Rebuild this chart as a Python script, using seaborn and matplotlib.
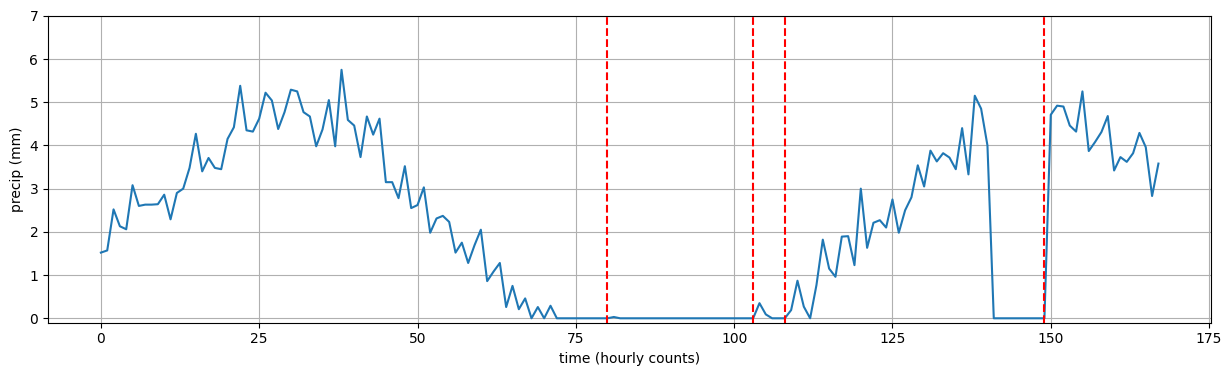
import pandas as pd
import numpy as np
import seaborn as sns
import matplotlib.pyplot as plt

# hourly precipitation values (index = hour)
precip = [
    1.52, 1.57, 2.52, 2.13, 2.06, 3.08, 2.60, 2.63, 2.63, 2.64,
    2.86, 2.29, 2.90, 3.00, 3.48, 4.27, 3.40, 3.71, 3.48, 3.45,
    4.15, 4.42, 5.38, 4.35, 4.32, 4.62, 5.22, 5.04, 4.38, 4.77,
    5.29, 5.25, 4.77, 4.67, 3.98, 4.37, 5.05, 3.98, 5.75, 4.59,
    4.46, 3.73, 4.67, 4.25, 4.62, 3.15, 3.15, 2.78, 3.52, 2.55,
    2.62, 3.03, 1.98, 2.31, 2.37, 2.23, 1.52, 1.75, 1.28, 1.69,
    2.05, 0.86, 1.08, 1.28, 0.26, 0.75, 0.21, 0.46, 0.00, 0.26,
    0.00, 0.29, 0.00, 0.00, 0.00, 0.00, 0.00, 0.00, 0.00, 0.00,
    0.00, 0.03, 0.00, 0.00, 0.00, 0.00, 0.00, 0.00, 0.00, 0.00,
    0.00, 0.00, 0.00, 0.00, 0.00, 0.00, 0.00, 0.00, 0.00, 0.00,
    0.00, 0.00, 0.00, 0.00, 0.35, 0.09, 0.00, 0.00, 0.00, 0.19,
    0.87, 0.27, 0.00, 0.77, 1.82, 1.15, 0.96, 1.89, 1.90, 1.23,
    3.00, 1.63, 2.21, 2.27, 2.10, 2.75, 1.98, 2.50, 2.80, 3.54,
    3.05, 3.88, 3.63, 3.82, 3.72, 3.45, 4.40, 3.33, 5.15, 4.85,
    4.00, 0.00, 0.00, 0.00, 0.00, 0.00, 0.00, 0.00, 0.00, 0.00,
    4.71, 4.92, 4.90, 4.46, 4.32, 5.25, 3.87, 4.08, 4.31, 4.68,
    3.42, 3.73, 3.62, 3.82, 4.29, 3.96, 2.83, 3.58,
]
hours = list(range(len(precip)))

# hours where the red dashed markers sit
breaks = [80, 103, 108, 149]

df = pd.DataFrame({"time": hours, "precip": precip})

fig, ax = plt.subplots(figsize=(12.31, 3.76), dpi=100)
fig.subplots_adjust(left=0.039, right=0.984, top=0.958, bottom=0.142)

sns.lineplot(data=df, x="time", y="precip", ax=ax, color="#1f77b4", linewidth=1.5)

for b in breaks:
    ax.axvline(b, color="red", linestyle="--", linewidth=1.5)

ax.set_ylim(-0.1, 7)
ax.grid(True)
ax.set_axisbelow(True)
ax.set_xlabel("time (hourly counts)")
ax.set_ylabel("precip (mm)")

plt.savefig("out.png", dpi=100)
